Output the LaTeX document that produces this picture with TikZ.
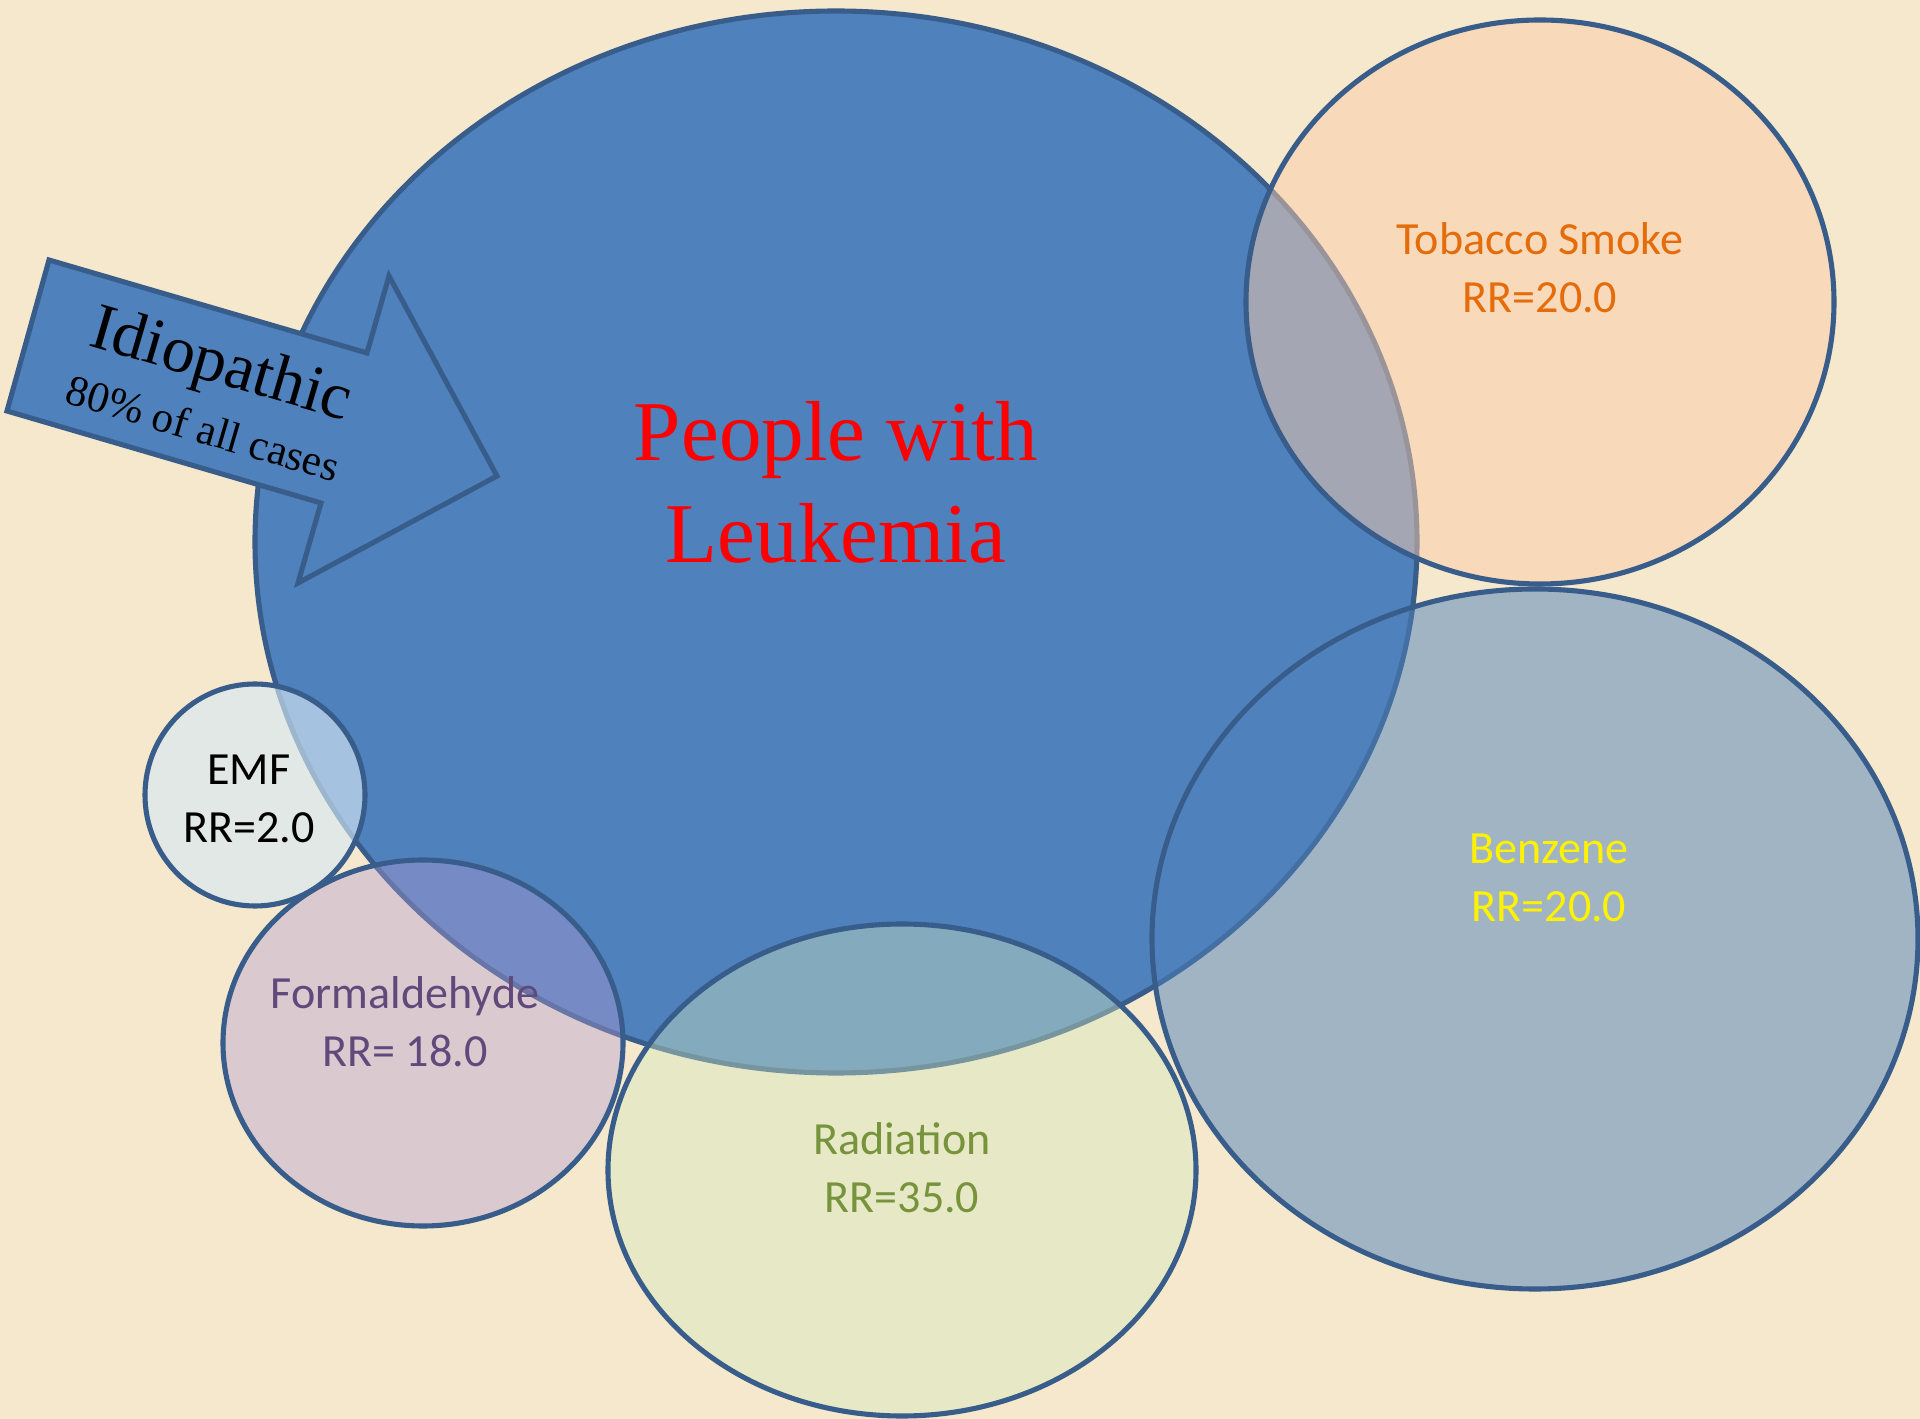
\documentclass[tikz,border=0pt]{standalone}
\usepackage{fontspec}
\setmainfont{Liberation Serif}
\newfontfamily\calibri{Carlito}
\definecolor{paper}{RGB}{245,232,204}
\definecolor{mainblue}{HTML}{4F81BD}
\definecolor{edgeblue}{HTML}{385D8A}
\definecolor{peach}{RGB}{251,204,170}
\definecolor{olivelight}{RGB}{212,235,190}
\definecolor{lilac}{RGB}{178,155,212}
\definecolor{skylight}{RGB}{214,233,244}
\definecolor{orangetext}{HTML}{E46C0A}
\definecolor{greentext}{HTML}{77933C}
\definecolor{purpletext}{HTML}{604A7B}
\tikzset{
  bubble/.style={draw=edgeblue, line width=1.45pt},
  risklabel/.style={font=\calibri\fontsize{13.1}{16.4}\selectfont, align=center}
}
\begin{document}
\begin{tikzpicture}[x=0.01cm, y=-0.01cm]
        % Sfondo
        \fill[paper] (0,0) rectangle (1920,1419);
        \useasboundingbox (0,0) rectangle (1920,1419);

        % Ellisse principale
        \draw[bubble, fill=mainblue] (836,542) ellipse [x radius=581, y radius=531];

        % Freccia
        \draw[bubble, fill=mainblue, line join=miter] (49,260) -- (367,353) -- (389,276) -- (497,476)
            -- (298,583) -- (321,503) -- (7,411) -- cycle;

        % Fattori di rischio
        \draw[bubble, fill=peach, fill opacity=0.5] (1540,302) ellipse [x radius=294, y radius=282]; % Tobacco
        \draw[bubble, fill=mainblue, fill opacity=0.5] (1535,939) ellipse [x radius=383, y radius=350]; % Benzene
        \draw[bubble, fill=olivelight, fill opacity=0.4] (902,1170) ellipse [x radius=294, y radius=246]; % Radiation
        \draw[bubble, fill=lilac, fill opacity=0.4] (423,1043) ellipse [x radius=200, y radius=183]; % Formaldehyde
        \draw[bubble, fill=skylight, fill opacity=0.64] (255,795) ellipse [x radius=110, y radius=111]; % EMF

        % Testi
        \node[text=red, align=center, font=\fontsize{24.2}{29}\selectfont] (people) at (836,482) {People with\\Leukemia};
        \node[rotate=-16.3, align=center, font=\fontsize{12.3}{15}\selectfont] (idio) at (214,391)
            {{\fontsize{18.8}{22}\selectfont Idiopathic}\\[2.6pt]80\% of all cases};

        \node[risklabel, text=orangetext] (tobacco) at (1540,268) {Tobacco Smoke\\RR=20.0};
        \node[risklabel, text=yellow] (benzene) at (1549,878) {Benzene\\RR=20.0};
        \node[risklabel, text=greentext] (radiation) at (902,1168) {Radiation\\RR=35.0};
        \node[risklabel, text=purpletext] (formaldehyde) at (405,1022) {Formaldehyde\\RR= 18.0};
        \node[risklabel, text=black] (emf) at (249,799) {EMF\\RR=2.0};
    \end{tikzpicture}
\end{document}
